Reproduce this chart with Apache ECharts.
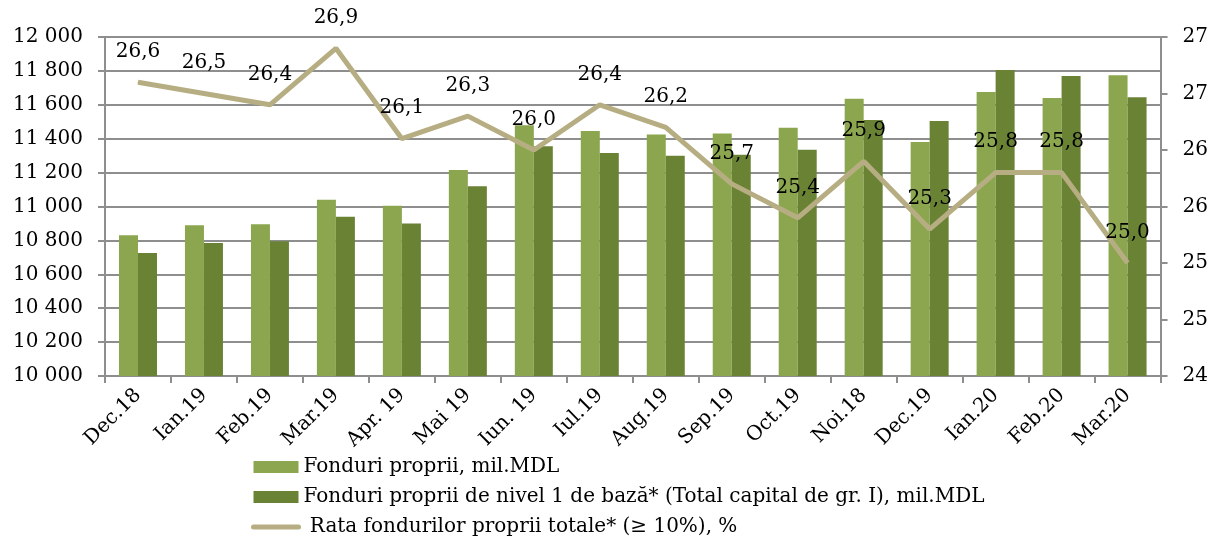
<!DOCTYPE html>
<html>
<head>
<meta charset="utf-8">
<script src="https://cdn.jsdelivr.net/npm/echarts@6/dist/echarts.min.js"></script>
<style>
html,body{margin:0;padding:0;background:#fff;}
#chart{width:1211px;height:542px;}
</style>
</head>
<body>
<div id="chart"></div>
<script>
// date
var luni = ['Dec.18','Ian.19','Feb.19','Mar.19','Apr. 19','Mai 19','Iun. 19','Iul.19','Aug.19','Sep.19','Oct.19','Noi.18','Dec.19','Ian.20','Feb.20','Mar.20'];
var fonduriProprii = [10830,10890,10895,11040,11005,11215,11480,11445,11425,11430,11465,11635,11380,11675,11640,11775];
var fonduriNivel1 = [10725,10785,10795,10940,10900,11120,11355,11315,11300,11305,11335,11510,11505,11805,11770,11645];
var rata = [26.6,26.5,26.4,26.9,26.1,26.3,26.0,26.4,26.2,25.7,25.4,25.9,25.3,25.8,25.8,25.0];
var numeSerii = ['Fonduri proprii, mil.MDL','Fonduri proprii de nivel 1 de bază* (Total capital de gr. I), mil.MDL',' Rata fondurilor proprii totale* (≥ 10%), %'];

var font = 'DejaVu Serif';
var gri = '#8e8e8e';
var fs = 20;

var myChart = echarts.init(document.getElementById('chart'));
var option = {
    animation: false,
    textStyle: {fontFamily: font},
    grid: {left: 105, right: 50, top: 37, bottom: 166, containLabel: false},
    legend: {
        orient: 'vertical',
        left: 251,
        top: 457,
        height: 110,
        padding: 0,
        itemWidth: 45,
        itemHeight: 12,
        itemGap: 10,
        textStyle: {fontFamily: font, fontSize: fs, color: '#000'},
        data: [
            {name: numeSerii[0], icon: 'rect'},
            {name: numeSerii[1], icon: 'rect'},
            {name: numeSerii[2], itemStyle: {opacity: 0}, lineStyle: {width: 5, cap: 'round'}}
        ]
    },
    xAxis: [{
        type: 'category',
        data: luni,
        axisLine: {lineStyle: {color: gri, width: 2}},
        axisTick: {show: true, length: 7, lineStyle: {color: gri, width: 2}},
        axisLabel: {rotate: 45, interval: 0, fontSize: fs, color: '#000', fontFamily: font, margin: 16}
    }],
    yAxis: [{
        type: 'value',
        min: 10000,
        max: 12000,
        interval: 200,
        axisLine: {show: true, lineStyle: {color: gri, width: 2}},
        axisTick: {show: true, length: 7, lineStyle: {color: gri, width: 2}},
        splitLine: {lineStyle: {color: gri, width: 2}},
        axisLabel: {
            fontSize: fs, color: '#000', fontFamily: font, margin: 22,
            formatter: function (v) { return String(v).replace(/\B(?=(\d{3})+(?!\d))/g, ' '); }
        }
    }, {
        type: 'value',
        min: 24,
        max: 27,
        interval: 0.5,
        position: 'right',
        axisLine: {show: true, lineStyle: {color: gri, width: 2}},
        axisTick: {show: true, length: 7, lineStyle: {color: gri, width: 2}},
        splitLine: {show: false},
        axisLabel: {
            fontSize: fs, color: '#000', fontFamily: font, margin: 22,
            formatter: function (v) { return Math.round(v); }
        }
    }],
    series: [{
        name: numeSerii[0],
        type: 'bar',
        data: fonduriProprii,
        barWidth: 19,
        barGap: '0%',
        itemStyle: {color: '#8ba64e'}
    }, {
        name: numeSerii[1],
        type: 'bar',
        data: fonduriNivel1,
        barWidth: 19,
        itemStyle: {color: '#6a8234'}
    }, {
        name: numeSerii[2],
        type: 'line',
        yAxisIndex: 1,
        data: rata,
        symbol: 'circle',
        symbolSize: 1,
        showSymbol: true,
        z: 5,
        lineStyle: {color: '#b6ae82', width: 5},
        itemStyle: {color: '#b6ae82'},
        label: {
            show: true,
            position: 'top',
            distance: 20,
            fontSize: fs,
            color: '#000',
            fontFamily: font,
            formatter: function (p) { return p.value.toFixed(1).replace('.', ','); }
        }
    }]
};
myChart.setOption(option);
</script>
</body>
</html>
